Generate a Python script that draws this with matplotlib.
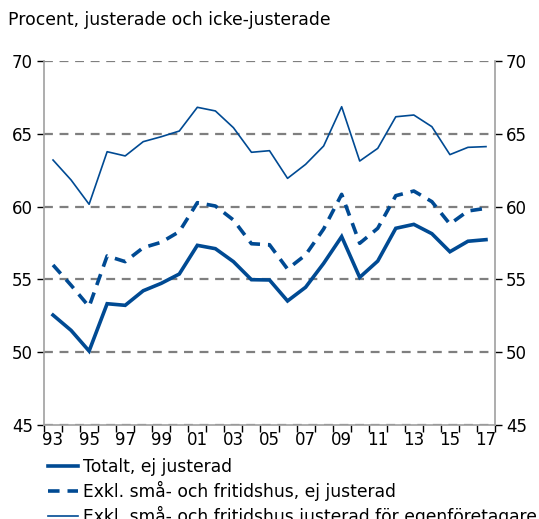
import matplotlib
matplotlib.use("Agg")
import matplotlib.pyplot as plt
from matplotlib.lines import Line2D

years = ["93", "94", "95", "96", "97", "98", "99", "00", "01", "02", "03", "04", "05",
         "06", "07", "08", "09", "10", "11", "12", "13", "14", "15", "16", "17"]

totalt = [52.55, 51.5, 50.08, 53.33, 53.22, 54.22, 54.73, 55.37, 57.34, 57.11, 56.22, 54.98, 54.96,
          53.52, 54.46, 56.1, 57.94, 55.14, 56.26, 58.51, 58.78, 58.14, 56.9, 57.62, 57.73]
exkl = [55.99, 54.6, 53.13, 56.61, 56.22, 57.18, 57.55, 58.28, 60.27, 60.04, 59.08, 57.45, 57.38,
        55.71, 56.68, 58.46, 60.84, 57.48, 58.51, 60.75, 61.07, 60.34, 58.8, 59.7, 59.88]
justerad = [63.2, 61.83, 60.16, 63.77, 63.48, 64.46, 64.8, 65.19, 66.82, 66.57, 65.42, 63.73, 63.84,
            61.94, 62.9, 64.16, 66.86, 63.13, 64.0, 66.17, 66.29, 65.49, 63.57, 64.07, 64.12]

labels = ["Totalt, ej justerad",
          "Exkl. små- och fritidshus, ej justerad",
          "Exkl. små- och fritidshus justerad för egenföretagare"]
title = "Procent, justerade och icke-justerade"

blue = "#004a93"
grey = "#7f7f7f"
plt.rcParams["font.family"] = ["DejaVu Sans"]

W, H = 539, 519
fig = plt.figure(figsize=(W / 100, H / 100), dpi=100)
ax = fig.add_axes([44 / W, 1 - 425 / H, 451 / W, 364 / H])

x = list(range(len(years)))
ax.plot(x, totalt, color=blue, lw=2.6, solid_joinstyle="miter")
ax.plot(x, exkl, color=blue, lw=2.6, dashes=(3.2, 2.2))
ax.plot(x, justerad, color=blue, lw=1.2)

ax.set_xlim(-0.5, len(years) - 0.5)
ax.set_ylim(45, 70)
yt = [45, 50, 55, 60, 65, 70]
ax.set_yticks(yt)
for v in yt:
    ax.axhline(v, color=grey, lw=1.6, dashes=(4, 3), zorder=0)

# tick marks sit between years, labels on every other year
ax.set_xticks([i - 0.5 for i in range(len(years) + 1)])
ax.set_xticklabels([])
ax.set_xticks(x[::2], minor=True)
ax.set_xticklabels(years[::2], minor=True)
ax.tick_params(axis="x", which="major", direction="out", length=5, color="black", width=1)
ax.tick_params(axis="x", which="minor", length=0, pad=4, labelsize=12)
ax.tick_params(axis="y", direction="out", length=5, color="black", width=1,
               labelsize=12, right=True, labelright=True, pad=3)

for s in ax.spines.values():
    s.set_color("#a0a0a0")
    s.set_linewidth(1.2)
ax.spines["top"].set_visible(False)

fig.text(8 / W, 1 - 20 / H, title, fontsize=12.4, va="center", ha="left")

handles = [Line2D([], [], color=blue, lw=2.6),
           Line2D([], [], color=blue, lw=2.6, dashes=(3.2, 2.2)),
           Line2D([], [], color=blue, lw=1.2)]
fig.legend(handles, labels, loc="upper left", bbox_to_anchor=(48 / W, 1 - 458 / H),
           frameon=False, fontsize=12.3, handlelength=1.75, handletextpad=0.3,
           labelspacing=0.3, borderaxespad=0, borderpad=0)

fig.savefig("out.png", dpi=100)
